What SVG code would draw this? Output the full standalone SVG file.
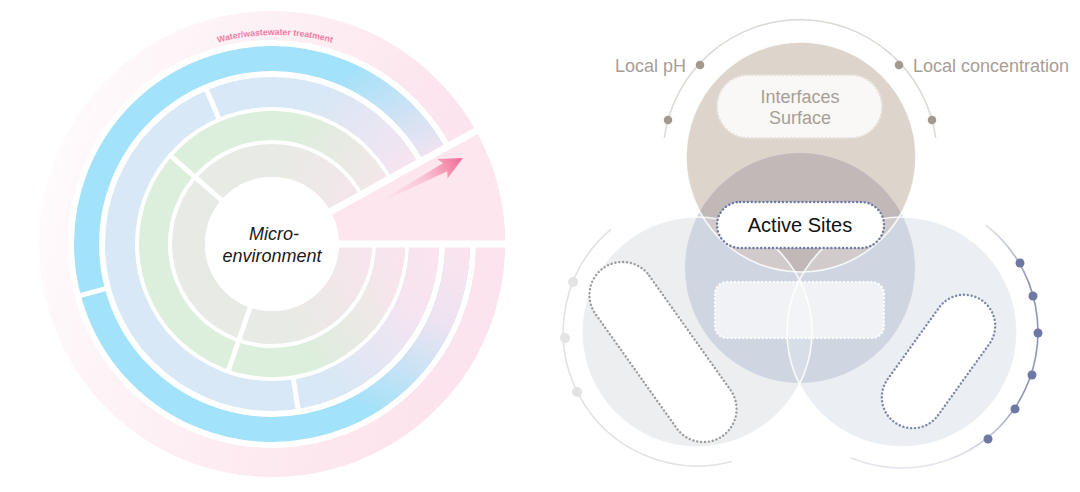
<svg xmlns="http://www.w3.org/2000/svg" width="1080" height="492" viewBox="0 0 1080 492">
<style>
.lbl{font-family:"Liberation Sans",Arial,sans-serif;font-size:18px;fill:#a89e95}
.dotline{fill:none;stroke-width:2.4;stroke-linecap:round;stroke-dasharray:0.1 3.8}
.gap{stroke:#fff;stroke-width:5;stroke-linecap:butt}
.vout{fill:none;stroke:#fff;stroke-width:1.6;stroke-opacity:0.85}
</style>
<defs>
<linearGradient id="pinkRing" x1="0" y1="0.3" x2="1" y2="0.6">
<stop offset="0" stop-color="#fffafb"/>
<stop offset="0.35" stop-color="#fdf1f5"/>
<stop offset="0.7" stop-color="#fde8ef"/>
<stop offset="1" stop-color="#fde3ec"/>
</linearGradient>
<radialGradient id="pinkGlow" gradientUnits="userSpaceOnUse" cx="470" cy="235" r="205">
<stop offset="0" stop-color="#fde3ed" stop-opacity="1"/>
<stop offset="0.45" stop-color="#fbe3ef" stop-opacity="0.85"/>
<stop offset="1" stop-color="#fbe3ef" stop-opacity="0"/>
</radialGradient>
<linearGradient id="arrowGrad" x1="0" y1="0" x2="1" y2="0">
<stop offset="0" stop-color="#f8c0d3" stop-opacity="0"/>
<stop offset="0.5" stop-color="#f7a9c3" stop-opacity="0.5"/>
<stop offset="1" stop-color="#f2638f"/>
</linearGradient>
<linearGradient id="rightArc" gradientUnits="userSpaceOnUse" x1="0" y1="222" x2="0" y2="460">
<stop offset="0" stop-color="#e4e6ec"/>
<stop offset="0.25" stop-color="#8d96b7"/>
<stop offset="0.75" stop-color="#8d96b7"/>
<stop offset="1" stop-color="#e4e6ec"/>
</linearGradient>
<mask id="ringMask">
<g fill="none" stroke="#fff">
<circle cx="272" cy="244" r="218.5" stroke-width="29"/>
<circle cx="272" cy="244" r="185.5" stroke-width="25"/>
<circle cx="272" cy="244" r="152" stroke-width="30"/>
<circle cx="272" cy="244" r="118.5" stroke-width="29"/>
<circle cx="272" cy="244" r="83.5" stroke-width="33"/>
</g>
</mask>
<clipPath id="clipTop"><circle cx="801" cy="157" r="115"/></clipPath>
<clipPath id="clipMid"><circle cx="800" cy="268" r="115"/></clipPath>
<clipPath id="clipLeft"><circle cx="697" cy="332" r="115"/></clipPath>
<path id="textArc" d="M156,72 A209,209 0 0 1 394,72"/>
</defs>

<!-- LEFT: micro-environment ring chart -->
<g id="rings">
<g fill="none">
<circle cx="272" cy="244" r="218.5" stroke="url(#pinkRing)" stroke-width="29"/>
<circle cx="272" cy="244" r="185.5" stroke="#a2e2fa" stroke-width="25"/>
<circle cx="272" cy="244" r="152" stroke="#d8e8f6" stroke-width="30"/>
<circle cx="272" cy="244" r="118.5" stroke="#dcefdc" stroke-width="29"/>
<circle cx="272" cy="244" r="83.5" stroke="#e8ebe5" stroke-width="33"/>
</g>
<rect x="40" y="0" width="500" height="492" fill="url(#pinkGlow)" mask="url(#ringMask)"/>
<g class="gap">
<line x1="222.9" y1="201.4" x2="168.6" y2="154.1"/>
<line x1="250.8" y1="305.5" x2="227.5" y2="373"/>
<line x1="219.3" y1="119.7" x2="205.2" y2="86.6"/>
<line x1="293.1" y1="377.3" x2="298.7" y2="412.9"/>
<line x1="106.8" y1="288.3" x2="77.8" y2="296.1"/>
</g>
</g>
<g id="wedge">
<path d="M330.6,211.5 L475.8,131 A233,233 0 0 1 505,244 L339,244 A67,67 0 0 0 330.6,211.5 Z" fill="#fde6ee"/>
<line x1="324.5" y1="214.9" x2="483" y2="127" stroke="#fff" stroke-width="7"/>
<line x1="330" y1="244" x2="515" y2="244" stroke="#fff" stroke-width="7"/>
<polygon transform="translate(378,203) rotate(-28)" points="0,-0.5 76,-4.5 73,-11 96,0 73,11 76,4.5 0,0.5" fill="url(#arrowGrad)"/>
</g>
<g id="center">
<circle cx="272" cy="244" r="67" fill="#fff"/>
<text font-family="Liberation Sans, Arial, sans-serif" font-style="italic" font-size="18" fill="#1a1a1a" text-anchor="middle"><tspan x="274" y="240">Micro-</tspan><tspan x="272" y="262">environment</tspan></text>
</g>
<g id="title-arc">
<text font-family="Liberation Sans, Arial, sans-serif" font-weight="bold" font-size="8.7" fill="#f27ca3" text-anchor="middle"><textPath href="#textArc" startOffset="50%">Water/wastewater treatment</textPath></text>
</g>

<!-- RIGHT: Venn of active sites -->
<g id="venn">
<circle cx="697" cy="332" r="115" fill="#eceef0"/>
<circle cx="902" cy="332" r="115" fill="#ebeff3"/>
<circle cx="801" cy="157" r="115" fill="#ddd5cc"/>
<circle cx="800" cy="268" r="115" fill="#cfd6e1"/>
<g clip-path="url(#clipTop)">
<g clip-path="url(#clipMid)">
<rect x="680" y="150" width="240" height="130" fill="#c0b9b8"/>
<circle cx="697" cy="332" r="115" fill="#fff" fill-opacity="0.28"/>
<circle cx="902" cy="332" r="115" fill="#fff" fill-opacity="0.28"/>
</g>
</g>
<g clip-path="url(#clipLeft)">
<circle cx="902" cy="332" r="115" fill="#fff" fill-opacity="0.2"/>
</g>
<circle class="vout" cx="801" cy="157" r="115"/>
<circle class="vout" cx="697" cy="332" r="115"/>
<circle class="vout" cx="902" cy="332" r="115"/>
</g>

<g id="connectors">
<path d="M664.3,137.9 A137,137 0 0 1 935.7,137.9" fill="none" stroke="#dcd8d4" stroke-width="1.5"/>
<path d="M610.9,229.4 A134,134 0 0 0 731.7,461.4" fill="none" stroke="#e3e3e3" stroke-width="1.6"/>
<path d="M985.7,224.8 A136,136 0 0 1 851.1,458.1" fill="none" stroke="url(#rightArc)" stroke-width="1.6"/>
<g fill="#a3998f">
<circle cx="668" cy="120" r="4.3"/>
<circle cx="700" cy="65" r="4.3"/>
<circle cx="899" cy="65" r="4.3"/>
<circle cx="932" cy="120" r="4.3"/>
</g>
<g fill="#e3e3e3">
<circle cx="573" cy="282" r="5"/>
<circle cx="565" cy="338" r="5"/>
<circle cx="577" cy="392" r="5"/>
</g>
<g fill="#6d78a5">
<circle cx="1020" cy="263" r="4.5"/>
<circle cx="1033" cy="296" r="4.5"/>
<circle cx="1038" cy="333" r="4.5"/>
<circle cx="1032" cy="375" r="4.5"/>
<circle cx="1015" cy="409" r="4.5"/>
<circle cx="988" cy="439" r="4.5"/>
</g>
</g>

<g id="label-ph"><text class="lbl" x="686" y="72" text-anchor="end">Local pH</text></g>
<g id="label-conc"><text class="lbl" x="913" y="72">Local concentration</text></g>

<g id="interfaces">
<rect x="717" y="75" width="165" height="63" rx="31" fill="#faf8f6"/>
<rect class="dotline" x="717" y="75" width="165" height="63" rx="31" stroke="#e6e0da"/>
<text class="lbl" fill="#a7a09a" x="800" y="103" text-anchor="middle">Interfaces</text>
<text class="lbl" fill="#a7a09a" x="800" y="124" text-anchor="middle">Surface</text>
</g>

<g id="active-sites">
<rect x="717" y="202" width="167" height="46" rx="23" fill="#fff"/>
<rect class="dotline" x="717" y="202" width="167" height="46" rx="23" stroke="#6e7aa5"/>
<text x="800" y="232" text-anchor="middle" font-family="Liberation Sans, Arial, sans-serif" font-size="20" fill="#111">Active Sites</text>
</g>

<g id="middle-box">
<rect x="715" y="282" width="169" height="56" rx="12" fill="#fff" fill-opacity="0.68"/>
<rect class="dotline" x="715" y="282" width="169" height="56" rx="12" stroke="#fff" stroke-opacity="0.9"/>
</g>

<g id="left-pill">
<rect transform="translate(663,352) rotate(54.6)" x="-103" y="-33" width="206" height="66" rx="33" fill="#fff"/>
<rect class="dotline" transform="translate(663,352) rotate(54.6)" x="-103" y="-33" width="206" height="66" rx="33" stroke="#9c9c9c"/>
</g>

<g id="right-pill">
<rect transform="translate(938.5,361.5) rotate(-54.3)" x="-75" y="-31" width="150" height="62" rx="31" fill="#fff"/>
<rect class="dotline" transform="translate(938.5,361.5) rotate(-54.3)" x="-75" y="-31" width="150" height="62" rx="31" stroke="#7d87a8"/>
</g>
</svg>
